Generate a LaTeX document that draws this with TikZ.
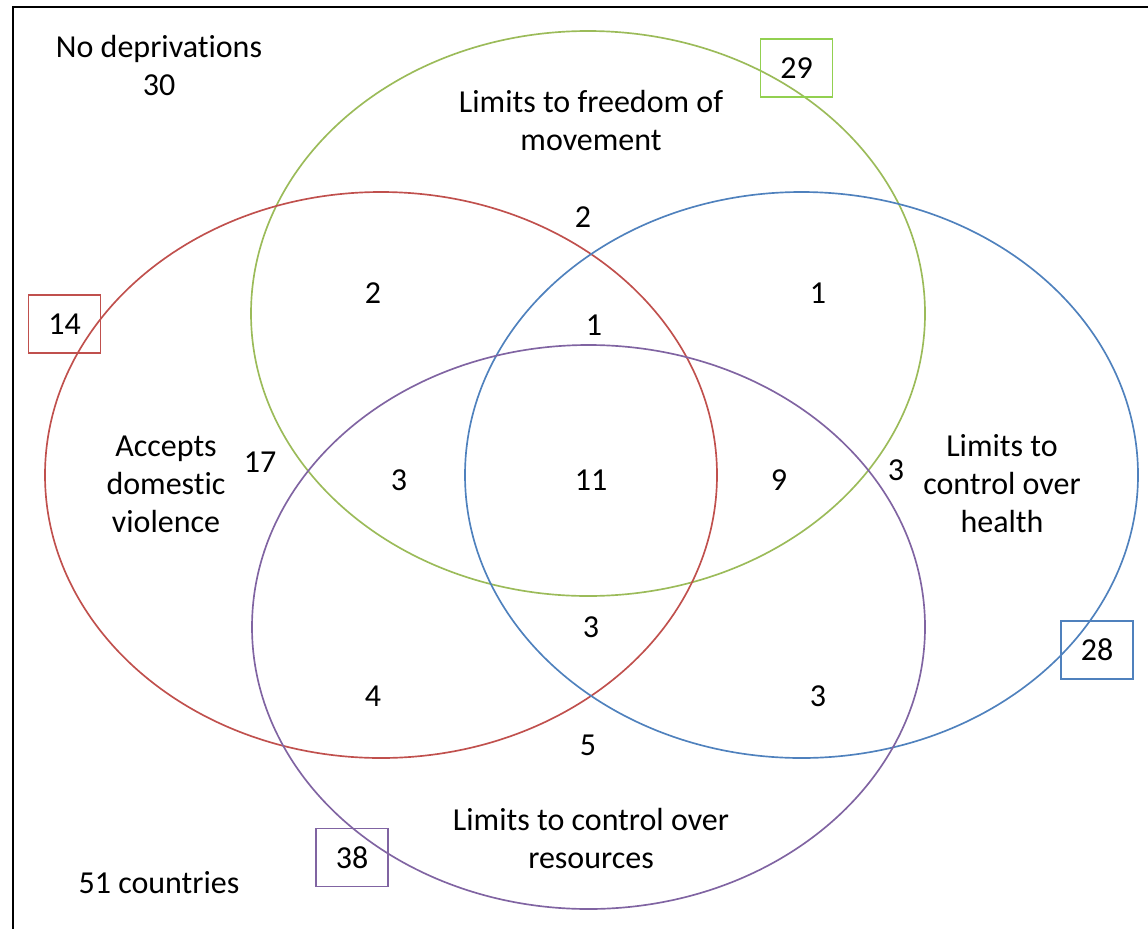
\documentclass[tikz,border=0pt]{standalone}
\usepackage{fontspec}
\setmainfont{Carlito}
\tikzset{
  lbl/.style={align=center, inner sep=0pt, font=\fontsize{24}{28.5}\selectfont},
  numbox/.style={lbl, draw, line width=1.4pt, minimum width=54pt, minimum height=43.5pt},
  venn/.style={line width=1.25pt}
}
\begin{document}
\begin{tikzpicture}[x=0.75pt, y=-0.75pt]
\definecolor{grn}{HTML}{9BBB59}
\definecolor{grnbox}{HTML}{92D050}
\definecolor{rd}{HTML}{C0504D}
\definecolor{blu}{HTML}{4F81BD}
\definecolor{prp}{HTML}{8064A2}
\useasboundingbox (0,0) rectangle (1148,928);
\draw[line width=1.7pt] (13,940) -- (13,7) -- (1160,7);
\draw[venn, grn] (588,313.5) ellipse [x radius=337, y radius=282.5];
\draw[venn, rd] (381,475) ellipse [x radius=336, y radius=283];
\draw[venn, blu] (801.5,475) ellipse [x radius=336.5, y radius=283];
\draw[venn, prp] (588.5,627) ellipse [x radius=336.5, y radius=282];
\node[lbl] (none) at (159,65) {No deprivat\kern0pt ions\\30};
\node[lbl] (move) at (591,121) {Limits to freedom of\\movement};
\node[lbl] (dv) at (166,484) {Accepts\\domest\kern0pt ic\\violence};
\node[lbl] (health) at (1002,484) {Limits to\\control over\\health};
\node[lbl] (res) at (591,838) {Limits to control over\\resources};
\node[lbl] (count) at (159,883) {51 countries};
\node[numbox, grnbox] (nmove) at (796.5,68) {\textcolor{black}{29}};
\node[numbox, rd] (ndv) at (64.5,324) {\textcolor{black}{14}};
\node[numbox, blu] (nhealth) at (1097,650) {\textcolor{black}{28}};
\node[numbox, prp] (nres) at (352,857.5) {\textcolor{black}{38}};
\node[lbl] (mr) at (583,217) {2};
\node[lbl] (mdv) at (373,293) {2};
\node[lbl] (mh) at (818,293) {1};
\node[lbl] (mdvh) at (594,325) {1};
\node[lbl] (dvonly) at (260,462) {17};
\node[lbl] (mdvr) at (399,480) {3};
\node[lbl] (all) at (591,480) {11};
\node[lbl] (mhr) at (779,480) {9};
\node[lbl] (honly) at (896,470) {3};
\node[lbl] (dvhr) at (591,627) {3};
\node[lbl] (dvr) at (373,696) {4};
\node[lbl] (hr) at (818,696) {3};
\node[lbl] (ronly) at (588,745) {5};
\end{tikzpicture}
\end{document}
